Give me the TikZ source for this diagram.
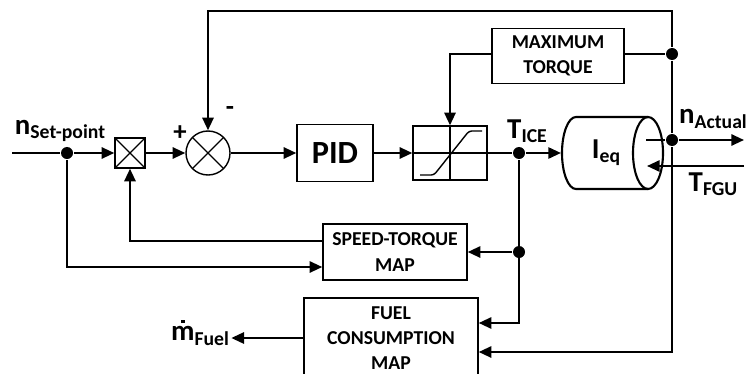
\documentclass[tikz,border=0pt]{standalone}
\usepackage{fontspec}
\setmainfont{Carlito}
\usetikzlibrary{arrows.meta}
\newcommand{\sig}[2]{{\fontsize{20.5}{22}\selectfont #1}\raisebox{-3pt}{\fontsize{14}{16}\selectfont #2}}
\newcommand{\mdot}{\ooalign{m\cr\hidewidth\raisebox{0.62em}{\rule{2.4pt}{2.4pt}}\hidewidth\cr}}
\begin{document}
\begin{tikzpicture}[x=0.025cm, y=-0.025cm, line width=1.5pt,
  >={Triangle[length=9pt,width=8pt]},
  every node/.style={font=\bfseries},
  blk/.style={draw,line width=1pt,align=center,inner sep=0pt,font=\fontsize{14}{18}\selectfont\bfseries},
  xmark/.style={draw,line width=1pt,inner sep=0pt,path picture={\draw[line width=1pt]
    (path picture bounding box.north west) -- (path picture bounding box.south east)
    (path picture bounding box.north east) -- (path picture bounding box.south west);}},
  jdot/.style={circle,fill,inner sep=0pt,minimum size=0.3cm},
  sig/.style={inner sep=1pt}]
\useasboundingbox (0,0) rectangle (748,374);
% forward path
\coordinate (in) at (12,153);
\node[jdot] (j1) at (67,153) {};
\node[xmark,minimum size=0.75cm] (mult) at (130,153) {};
\node[xmark,circle,minimum size=1.1cm] (sum) at (208,153) {};
\node[blk,minimum width=1.9cm,minimum height=1.425cm,font=\fontsize{23}{26}\selectfont\bfseries] (pid) at (335,153) {PID};
\node[blk,minimum width=1.85cm,minimum height=1.35cm] (sat) at (450,153) {};
\draw[line width=1pt] (sat.north) -- (sat.south) (sat.west) -- (sat.east);
\draw[line width=1pt,rounded corners=2pt] ([shift={(-30,22)}]sat.center) -- ++(14,0) -- ++(35,-44) -- ++(13,0);
\node[jdot] (jT) at (519,153) {};
% inertia
\node[minimum width=2.45cm,minimum height=1.8cm,inner sep=0pt] (cyl) at (611,153) {};
\draw (576,117) -- (648,117) (576,189) -- (648,189)
  (576,117) arc[start angle=90,end angle=270,x radius=0.35cm,y radius=0.9cm];
\draw (648,153) ellipse[x radius=0.375cm,y radius=0.9cm];
\node[sig] (ieq) at (606,153) {\sig{I}{eq}};
\coordinate (nA0) at (646,140);
\node[jdot] (jN) at (672,140) {};
\coordinate (nA1) at (744,140);
\coordinate (tF0) at (744,166);
\coordinate (tF1) at (647,166);
% upper blocks
\coordinate (top) at (208,11);
\node[jdot] (jM) at (672,54) {};
\node[blk,minimum width=3.3cm,minimum height=1.375cm] (maxt) at (558,56) {MAXIMUM\\TORQUE};
% lower blocks
\node[blk,minimum width=3.6cm,minimum height=1.4cm] (stm) at (395,252) {SPEED-TORQUE\\MAP};
\node[jdot] (jS) at (519,252) {};
\node[blk,minimum width=4.35cm,minimum height=2cm] (fcm) at (391,338) {FUEL\\CONSUMPTION\\MAP};
% labels
\node[sig] (nset) at (60,131) {\sig{n}{Set-point}};
\node[sig,font=\fontsize{19}{20}\selectfont\bfseries] (plus) at (180,133) {+};
\node[sig,font=\fontsize{19}{20}\selectfont\bfseries] (minus) at (230,111) {-};
\node[sig] (tice) at (527,131) {\sig{T}{ICE}};
\node[sig] (nact) at (713,119) {\sig{n}{Actual}};
\node[sig] (tfgu) at (713,184) {\sig{T}{FGU}};
\node[sig] (mf) at (200,336) {\sig{\mdot}{Fuel}};
% connectors
\draw (in) -- (j1);
\draw[->] (j1) -- (mult);
\draw[->] (mult) -- (sum);
\draw[->] (sum) -- (pid);
\draw[->] (pid) -- (sat);
\draw (sat) -- (jT);
\draw[->] (jT) -- (cyl);
\draw (nA0) -- (jN);
\draw[->] (jN) -- (nA1);
\draw[->] (tF0) -- (tF1);
\draw[->] (jN) -- (jM) |- (top) -- (sum.north);
\draw (jM) -- (jM -| maxt.east);
\draw[->] (maxt.west |- jM) -| (sat.north);
\draw[->] (jN) |- ([yshift=-0.35cm]fcm.east);
\draw[->] (jT) |- ([yshift=0.375cm]fcm.east);
\draw[->] (jS) -- (stm.east);
\draw[->] (j1) |- ([yshift=-0.375cm]stm.west);
\draw[->] ([yshift=0.275cm]stm.west) -| (mult.south);
\draw[->] (fcm.west) -- (fcm.west -| mf.east);
\end{tikzpicture}
\end{document}
